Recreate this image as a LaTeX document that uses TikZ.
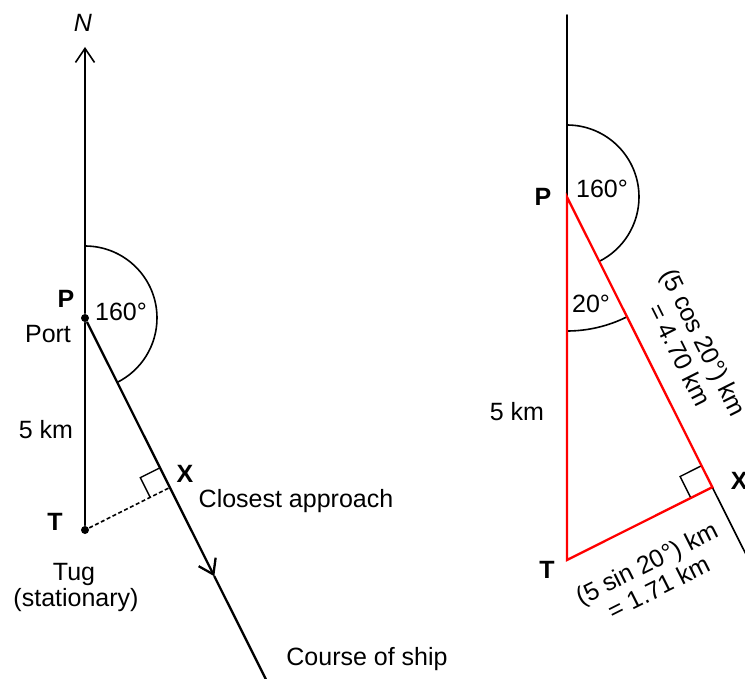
\documentclass[tikz,border=0pt]{standalone}
\usepackage{fontspec}
\setmainfont{Liberation Sans}
\usetikzlibrary{positioning,calc,arrows.meta}
\tikzset{
  lbl/.style={font=\fontsize{25}{27}\selectfont, inner sep=0pt, anchor=base},
  vtx/.style={lbl, font=\fontsize{25}{27}\selectfont\bfseries},
  rot/.style={font=\fontsize{25}{27}\selectfont, inner sep=0pt, align=center},
  spot/.style={circle, fill, inner sep=0pt, minimum size=8pt},
  barb/.style={-{Straight Barb[length=14pt,width=19pt]}},
  bold line/.style={line width=2.3pt},
  side/.style={red, line width=2.3pt}
}

\begin{document}
\begin{tikzpicture}[x=1pt,y=-1pt,line width=1.6pt,line cap=round]
    \useasboundingbox (0,0) rectangle (745,679);
    \clip (0,0) rectangle (745,679);
    % first sketch: port, tug and the course of the ship
    \node[spot] (P) at (85,318) {};
    \node[spot] (T) at (85,530) {};
    \coordinate (N) at (85,47);
    \coordinate (C) at ($(P)+(63.4:404)$);
    \coordinate (X) at ($(P)!(T)!(C)$);
    \coordinate (A) at ($(P)!0.715!(C)$);
    \draw[barb] (P) -- (N);
    \draw[bold line] (P) -- (T);
    \draw[bold line,barb] (P) -- (A);
    \draw[bold line] (A) -- (C);
    \draw[line width=1.6pt,line cap=butt,dash pattern=on 4pt off 2.5pt] (T) -- (X);
    \draw ($(P)+(0,-72)$) arc[start angle=-90,end angle=63.4,radius=72];
    \coordinate (xa) at ($(X)!22pt!(P)$);
    \coordinate (xb) at ($(X)!22pt!(T)$);
    \draw[line width=1.4pt] (xa) -- ($(xa)+(xb)-(X)$) -- (xb);
    \node[lbl,font=\fontsize{25}{27}\selectfont\itshape] (Nlbl) at (83,32) {N};
    \node[vtx] (Plbl) at (66,308) {P};
    \node[lbl] (ang) at (121,320) {160°};
    \node[lbl] (port) at (48,343) {Port};
    \node[lbl] (dist) at (46,438) {5 km};
    \node[vtx] (Tlbl) at (55,530) {T};
    \node[vtx] (Xlbl) at (185,482) {X};
    \node[lbl] (closest) at (296,507) {Closest approach};
    \node[lbl] (tug) at (74,580) {Tug};
    \node[lbl] (tugnote) at (76,606) {(stationary)};
    \node[lbl] (course) at (367,665) {Course of ship};
    % second sketch: the right-angled triangle
    \coordinate (P2) at (567,197);
    \coordinate (top2) at (567,15);
    \coordinate (T2) at (567,560);
    \coordinate (C2) at ($(P2)+(63.4:400)$);
    \coordinate (X2) at ($(P2)!(T2)!(C2)$);
    \draw (P2) -- (top2);
    \draw (X2) -- (C2);
    \draw ($(P2)+(0,-72)$) arc[start angle=-90,end angle=63.4,radius=72];
    \draw ($(P2)+(0,134)$) arc[start angle=90,end angle=63.4,radius=134];
    \coordinate (ya) at ($(X2)!24pt!(P2)$);
    \coordinate (yb) at ($(X2)!24pt!(T2)$);
    \draw[line width=1.4pt] (ya) -- ($(ya)+(yb)-(X2)$) -- (yb);
    \draw[side] (P2) -- (T2) -- (X2) -- cycle;
    \node[vtx] (P2lbl) at (543,206) {P};
    \node[lbl] (ang2) at (602,198) {160°};
    \node[lbl] (ang3) at (591,313) {20°};
    \node[lbl] (dist2) at (517,420) {5 km};
    \node[vtx] (T2lbl) at (547,578) {T};
    \node[vtx,anchor=base west] (X2lbl) at (730,489) {X};
    \node[rot,rotate=-63.4] (cosl) at ($(P2)!0.59!(X2)+(-26.6:44)$) {(5 cos 20°) km\\= 4.70 km};
    \node[rot,rotate=26.6] (sinl) at ($(T2)!0.43!(X2)+(63.4:52)$) {(5 sin 20°) km\\= 1.71 km};
\end{tikzpicture}
\end{document}
